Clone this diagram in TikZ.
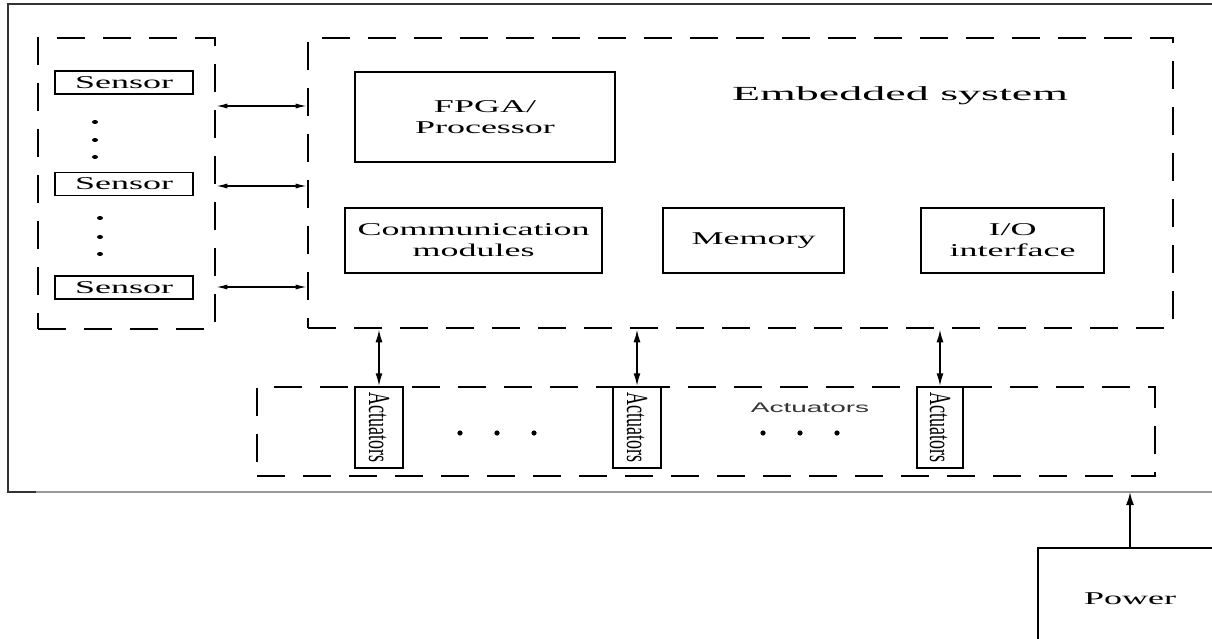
\documentclass[tikz,border=0pt]{standalone}
\usepackage{fontspec}
\setmainfont{Liberation Serif}
\setsansfont{Liberation Sans}
\usepackage{graphicx}
\usepackage{tikz}
\usetikzlibrary{arrows.meta,positioning,calc}
\newcommand{\widetxt}[1]{\scalebox{2.0}[1]{#1}}
\newcommand{\talltxt}[1]{\scalebox{1}[1.7]{#1}}

\begin{document}
\begin{tikzpicture}[x=1pt, y=-1pt,
  grp/.style={draw, line width=2.6pt, dash pattern=on 28pt off 18pt},
  blk/.style={draw, line width=1.5pt, inner sep=0pt, align=center, font=\fontsize{18}{21}\selectfont},
  actbox/.style={draw, line width=1.5pt, inner sep=0pt, minimum height=81pt, font=\fontsize{18}{21}\selectfont},
  bi/.style={{Latex[length=13pt,width=7pt]}-{Latex[length=13pt,width=7pt]}, line width=1.8pt},
  bithin/.style={{Latex[length=11pt,width=5pt]}-{Latex[length=11pt,width=5pt]}, line width=1.2pt}]

% ===== page 1212 x 639 px, 1px = 1pt =====
\useasboundingbox (0,0) rectangle (1212,639);
\clip (0,0) rectangle (1212,639);
\draw[black!80, line width=1.3pt] (1212,4) -- (8,4) -- (8,492) -- (36,492);
\draw[black!40, line width=1.3pt] (36,492) -- (1212,492);
\coordinate (fb) at (0,492);

% ============ sensors ============
\node[grp, minimum width=177pt, minimum height=291pt] (sgrp) at (126.5,183.5) {};
\node[blk, minimum width=138pt, minimum height=23pt] (s1) at (124,82.5) {\widetxt{Sensor}};
\node[blk, minimum width=138pt, minimum height=23pt] (s2) at (124,184) {\widetxt{Sensor}};
\node[blk, minimum width=138pt, minimum height=23pt] (s3) at (124,287.5) {\widetxt{Sensor}};
\foreach \y in {122,140,157} \fill (95,\y) ellipse (3pt and 2pt);
\foreach \y in {218,237,254} \fill (100,\y) ellipse (3pt and 2pt);

% ============ embedded system ============
\node[grp, minimum width=865pt, minimum height=290pt] (emb) at (740.5,183) {};
\node[font=\fontsize{20}{24}\selectfont] (embl) at (900,96) {\scalebox{2.3}[1]{Embedded system}};
\node[blk, minimum width=260pt, minimum height=90pt] (fpga) at (485,117)
  {\widetxt{FPGA/}\\\widetxt{Processor}};
\node[blk, minimum width=257pt, minimum height=65pt] (comm) at (473.5,240.5)
  {\widetxt{Communication}\\\widetxt{modules}};
\node[blk, minimum width=181pt, minimum height=65pt] (mem) at (753.5,240.5) {\widetxt{Memory}};
\node[blk, minimum width=183pt, minimum height=65pt] (io) at (1012.5,240.5)
  {\widetxt{I/O}\\\widetxt{interface}};

% sensor links
\draw[bithin] (sgrp.east |- 0,106) -- (emb.west |- 0,106);
\draw[bithin] (sgrp.east |- 0,186) -- (emb.west |- 0,186);
\draw[bithin] (sgrp.east |- 0,287) -- (emb.west |- 0,287);

% ============ actuators ============
\node[grp, minimum width=898pt, minimum height=89pt] (agrp) at (706,431.5) {};
\node[actbox, minimum width=48pt] (a1) at (379,427.5) {\rotatebox{-90}{\talltxt{Actuators}}};
\node[actbox, minimum width=48pt] (a2) at (637,427.5) {\rotatebox{-90}{\talltxt{Actuators}}};
\node[actbox, minimum width=46pt] (a3) at (940,427.5) {\rotatebox{-90}{\talltxt{Actuators}}};
\node[font=\sffamily\fontsize{14}{16}\selectfont, text=black!80] (alab) at (810,408) {\widetxt{Actuators}};
\foreach \x in {460,497,534,763,800,837} \fill (\x,433) circle (2.6pt);

\draw[bi] (emb.south -| a1) -- (a1.north);
\draw[bi] (emb.south -| a2) -- (a2.north);
\draw[bi] (emb.south -| a3) -- (a3.north);

% ============ power ============
\node[blk, minimum width=184pt, minimum height=102pt] (pwr) at (1130,599) {\widetxt{Power}};
\draw[-{Latex[length=13pt,width=8pt]}, line width=1.8pt] (pwr.north) -- (pwr.north |- fb);

\end{tikzpicture}
\end{document}
